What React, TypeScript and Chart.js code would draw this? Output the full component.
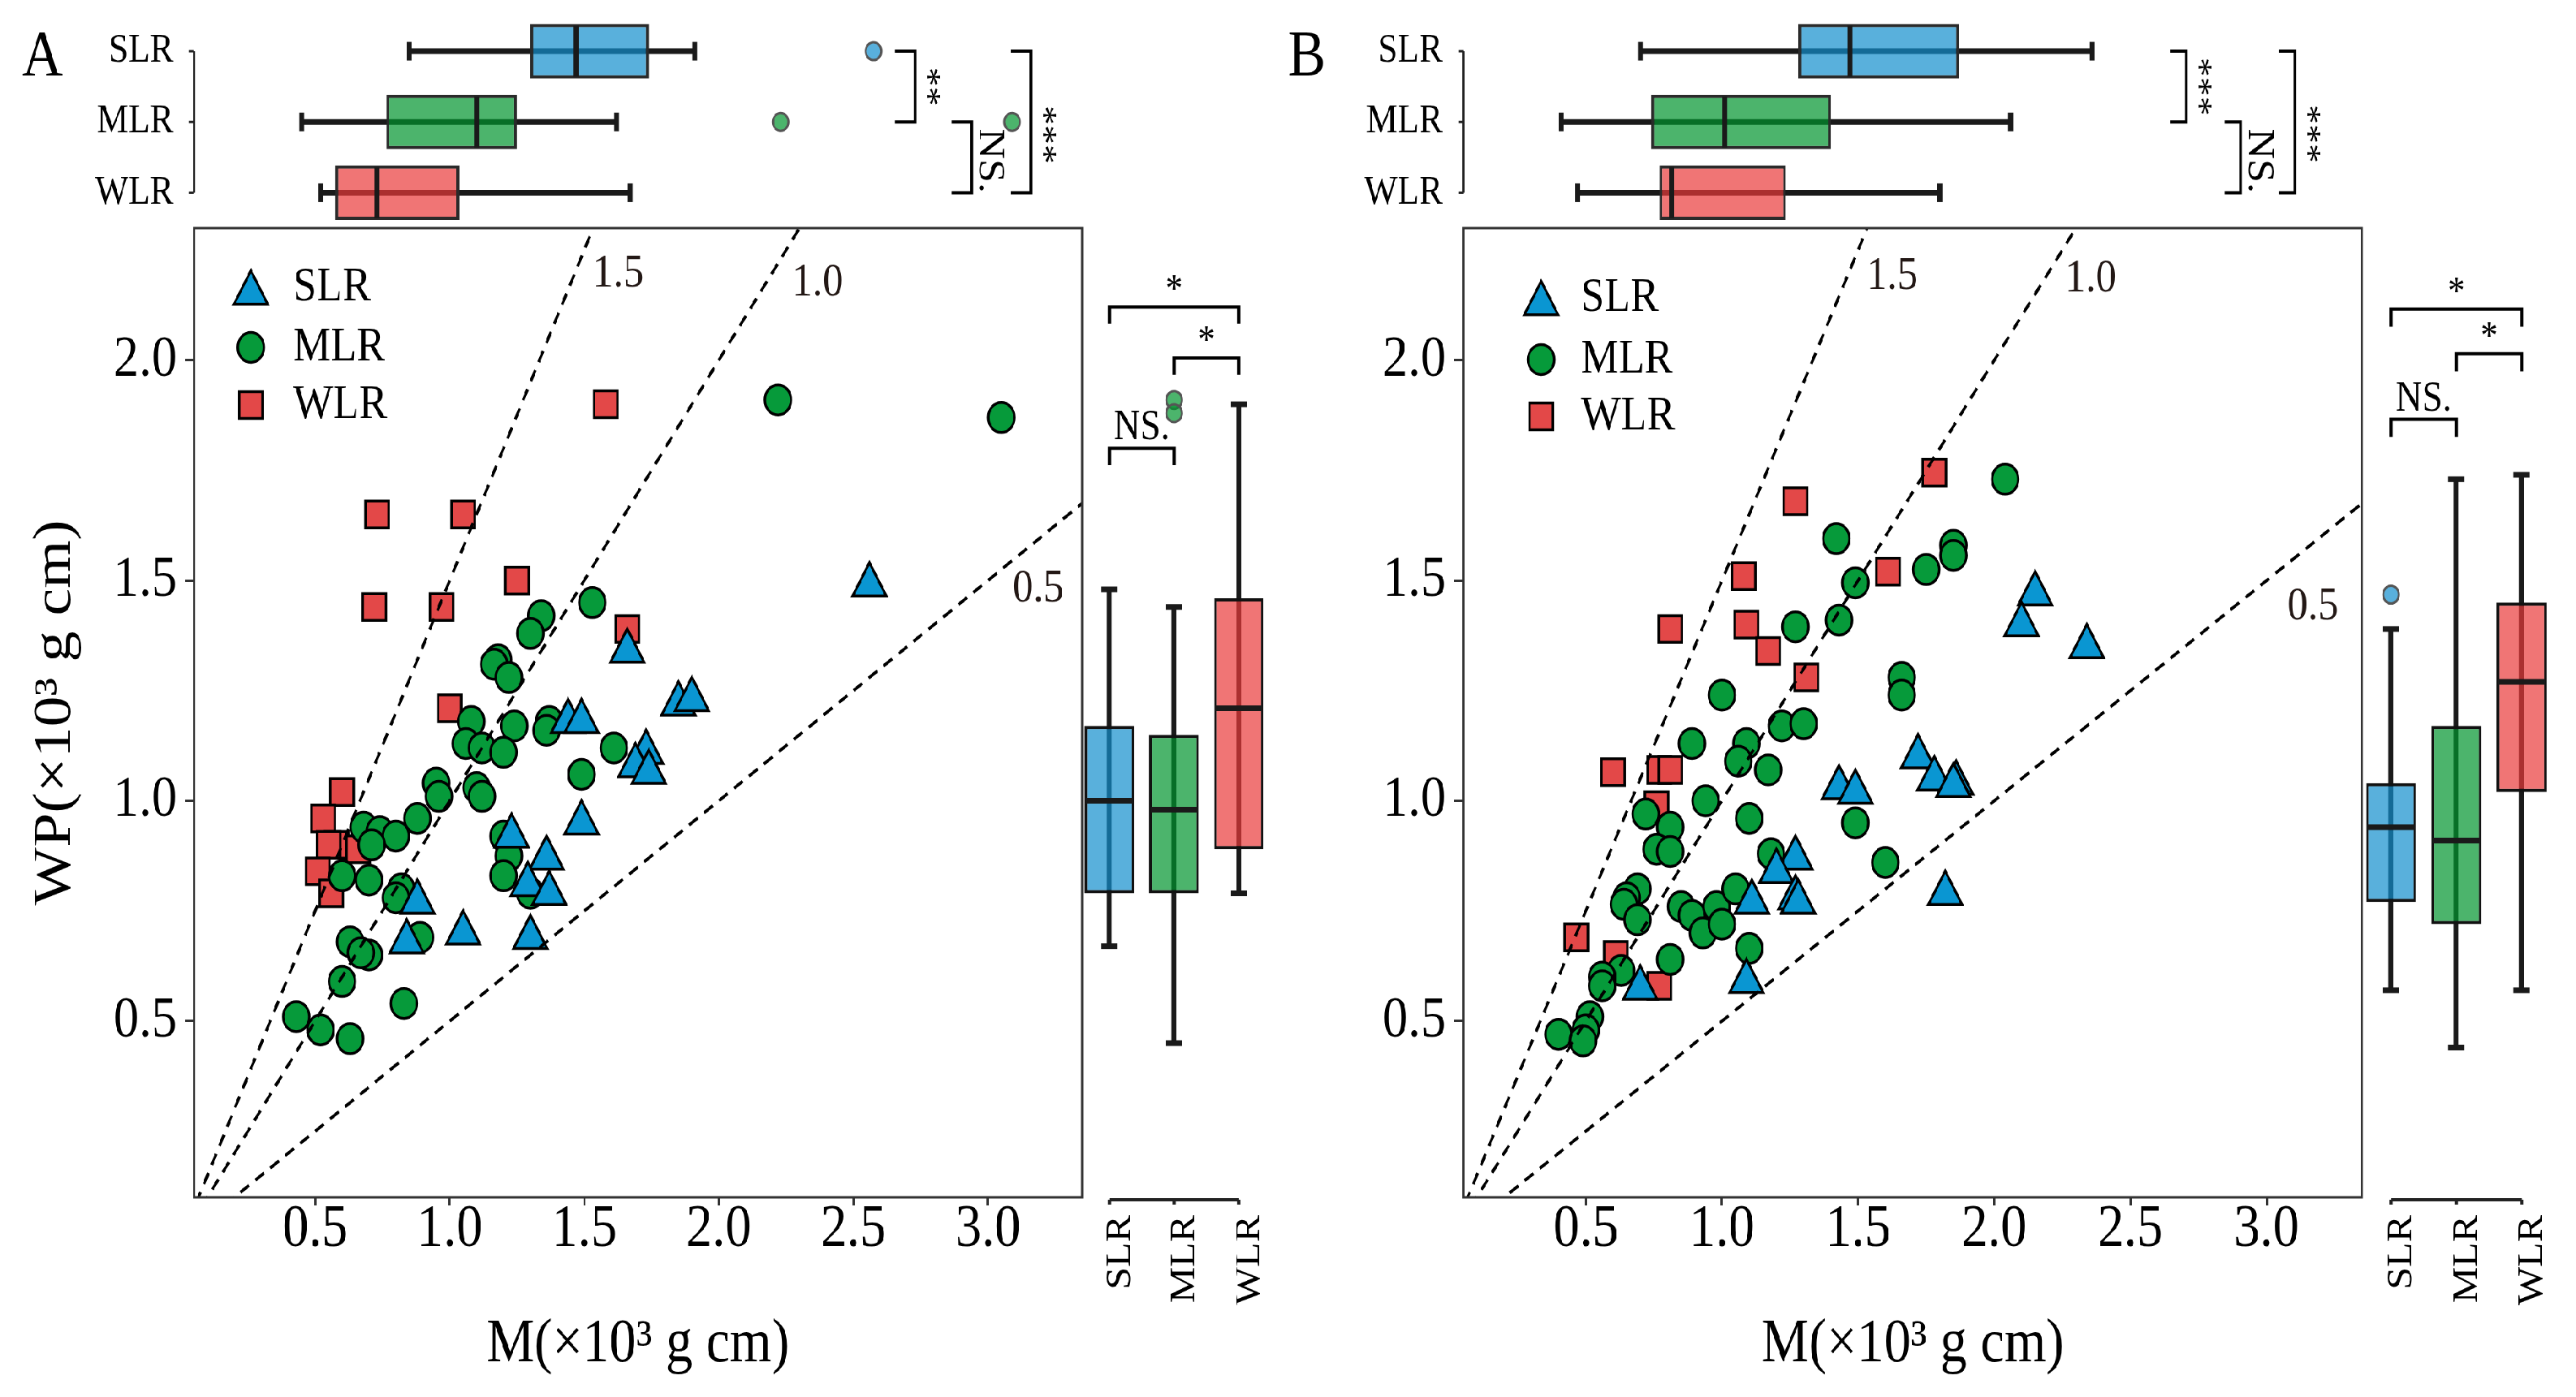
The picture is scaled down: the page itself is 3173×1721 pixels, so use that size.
import { useEffect, useRef } from "react";
import { Chart, registerables } from "chart.js";
import { drawPoint } from "chart.js/helpers";

Chart.register(...registerables);

const FONT = "'Liberation Serif', 'Times New Roman', serif";
Chart.defaults.font.family = FONT;
Chart.defaults.color = "#000";

// the figure is squeezed horizontally, so everything is drawn wider and scaled back with CSS
const SX = 0.87;
const L = (px: number) => px / SX;
const W = 3173;
const H = 1721;

const groups = ["SLR", "MLR", "WLR"];
const pointColors = ["#0a96d2", "#069a3a", "#e34848"];
const boxFills = ["rgba(19,143,205,0.7)", "rgba(0,148,46,0.7)", "rgba(233,59,59,0.7)"];
const pointStyles = ["triangle", "circle", "rect"];
const pointRadii = [27.5, 18.5, 23.3];

// reference lines WP = k * M
const slopes = [1.5, 1.0, 0.5];

// ---- Panel A: M and WP (x10^3 g cm) ----
const slrA_M = [2.56, 1.66, 1.85, 1.9, 1.44, 1.49, 1.73, 1.69, 1.74, 1.49, 1.23, 1.36, 1.29, 1.37, 0.88, 0.84, 1.05, 1.3];
const slrA_WP = [1.49, 1.34, 1.22, 1.23, 1.18, 1.18, 1.11, 1.08, 1.065, 0.95, 0.92, 0.87, 0.81, 0.79, 0.77, 0.68, 0.7, 0.69];
const mlrA_M = [
  1.53, 1.34, 1.3, 1.18, 1.165, 1.22, 1.08, 1.24, 1.37, 1.36, 1.06, 1.12, 1.2, 1.61, 1.49, 0.95, 0.96, 1.1, 1.12, 0.88,
  0.68, 0.74, 0.8, 0.71, 1.2, 1.22, 1.2, 1.3, 0.6, 0.7, 0.82, 0.8, 0.89, 0.63, 0.7, 0.67, 0.6, 0.83, 0.43, 0.52, 0.63,
  2.22, 3.05,
];
const mlrA_WP = [
  1.45, 1.42, 1.38, 1.32, 1.31, 1.28, 1.18, 1.17, 1.18, 1.16, 1.13, 1.12, 1.11, 1.12, 1.06, 1.04, 1.01, 1.03, 1.01, 0.96,
  0.94, 0.93, 0.92, 0.9, 0.92, 0.875, 0.83, 0.79, 0.83, 0.82, 0.8, 0.78, 0.69, 0.68, 0.65, 0.655, 0.59, 0.54, 0.51, 0.48,
  0.46, 1.91, 1.87,
];
const wlrA_M = [0.73, 1.05, 1.58, 1.25, 0.72, 0.97, 1.66, 1.0, 0.6, 0.53, 0.58, 0.55, 0.66, 0.51, 0.56];
const wlrA_WP = [1.65, 1.65, 1.9, 1.5, 1.44, 1.44, 1.39, 1.21, 1.02, 0.96, 0.9, 0.9, 0.89, 0.84, 0.79];

// ---- Panel B ----
const slrB_M = [2.15, 2.1, 2.34, 1.72, 1.78, 1.86, 1.85, 1.43, 1.49, 1.27, 1.2, 1.11, 1.27, 1.28, 1.82, 1.09, 0.7];
const slrB_WP = [1.47, 1.4, 1.35, 1.1, 1.05, 1.04, 1.035, 1.03, 1.02, 0.87, 0.84, 0.77, 0.78, 0.77, 0.79, 0.59, 0.575];
const mlrB_M = [
  2.04, 1.42, 1.85, 1.85, 1.75, 1.49, 1.27, 1.43, 1.66, 1.66, 1.0, 1.22, 1.3, 0.89, 1.09, 1.06, 1.17, 0.94, 1.1, 1.49,
  0.72, 0.81, 0.76, 0.81, 1.18, 1.6, 0.69, 0.65, 0.64, 0.69, 0.85, 0.89, 0.98, 0.93, 1.0, 1.05, 1.1, 0.81, 0.63, 0.56,
  0.56, 0.515, 0.5, 0.4, 0.49,
];
const mlrB_WP = [
  1.73, 1.595, 1.58, 1.557, 1.525, 1.495, 1.395, 1.41, 1.28, 1.24, 1.24, 1.17, 1.175, 1.13, 1.13, 1.09, 1.07, 1.0, 0.96,
  0.95, 0.97, 0.94, 0.89, 0.885, 0.88, 0.86, 0.8, 0.78, 0.765, 0.73, 0.76, 0.74, 0.76, 0.7, 0.72, 0.8, 0.665, 0.64, 0.615,
  0.6, 0.58, 0.51, 0.48, 0.47, 0.455,
];
const wlrB_M = [1.78, 1.27, 1.61, 1.08, 0.81, 1.09, 1.17, 1.31, 0.6, 0.77, 0.81, 0.76, 0.465, 0.61, 0.77];
const wlrB_WP = [1.745, 1.68, 1.52, 1.51, 1.39, 1.4, 1.34, 1.28, 1.065, 1.07, 1.07, 0.99, 0.69, 0.65, 0.58];

// box plot summaries [min, q1, median, q3, max]
const aM_SLR = [0.85, 1.3, 1.47, 1.74, 1.91];
const aM_MLR = [0.45, 0.765, 1.1, 1.25, 1.62];
const aM_WLR = [0.52, 0.575, 0.73, 1.035, 1.67];
const aM_out = [[2.575], [2.23, 3.09], []];
const aWP_SLR = [0.67, 0.79, 1.0, 1.17, 1.48];
const aWP_MLR = [0.45, 0.79, 0.98, 1.15, 1.44];
const aWP_WLR = [0.79, 0.89, 1.21, 1.46, 1.9];
const aWP_out = [[], [1.91, 1.88], []];
const bM_SLR = [0.7, 1.28, 1.47, 1.87, 2.36];
const bM_MLR = [0.41, 0.74, 1.01, 1.4, 2.06];
const bM_WLR = [0.47, 0.77, 0.815, 1.235, 1.8];
const bM_out = [[], [], []];
const bWP_SLR = [0.57, 0.77, 0.94, 1.04, 1.39];
const bWP_MLR = [0.44, 0.72, 0.91, 1.17, 1.73];
const bWP_WLR = [0.57, 1.02, 1.27, 1.45, 1.74];
const bWP_out = [[1.468], [], []];

// significance brackets
const topPairs = [[0, 1], [1, 2], [0, 2]];
const rightPairs = [[0, 2], [1, 2], [0, 1]];
const aM_sigAt = [2.73, 2.94, 3.16];
const aM_sig = ["**", "NS.", "***"];
const aM_sigTextAt = [0.5, 1.55, 1.18];
const bM_sigAt = [2.705, 2.905, 3.104];
const bM_sig = ["***", "NS.", "***"];
const bM_sigTextAt = [0.5, 1.55, 1.17];
const aWP_sigAt = [2.121, 2.005, 1.8];
const bWP_sigAt = [2.116, 2.015, 1.866];
const wp_sig = ["*", "*", "NS."];

// slope label positions (M, WP)
const aSlopeLabelM = [1.626, 2.367, 3.187];
const aSlopeLabelWP = [2.196, 2.176, 1.48];
const bSlopeLabelM = [1.625, 2.354, 3.17];
const bSlopeLabelWP = [2.19, 2.185, 1.44];

function line(ctx: any, a: number[], b: number[]) {
  ctx.beginPath();
  ctx.moveTo(a[0], a[1]);
  ctx.lineTo(b[0], b[1]);
  ctx.stroke();
}

// keep the chart area where we put it: no extra room for overhanging labels
function noPad(s: any) {
  s.paddingTop = 0;
  s.paddingBottom = 0;
  s.paddingLeft = 0;
  s.paddingRight = 0;
}

function makeBoxPlugin(o: any) {
  const xy = (horiz: boolean, v: number, c: number) => (horiz ? [v, c] : [c, v]);
  const scalesOf = (chart: any) => {
    const horiz = chart.options.indexAxis === "y";
    return {
      horiz,
      vs: horiz ? chart.scales.x : chart.scales.y,
      cs: horiz ? chart.scales.y : chart.scales.x,
    };
  };
  return {
    id: "boxExtras",
    beforeDatasetsDraw(chart: any) {
      const { ctx } = chart;
      const { horiz, vs, cs } = scalesOf(chart);
      ctx.save();
      ctx.strokeStyle = "#1a1a1a";
      ctx.lineWidth = 7;
      o.stats.forEach((s: number[], i: number) => {
        const c = cs.getPixelForValue(i);
        const lo = vs.getPixelForValue(s[0]);
        const hi = vs.getPixelForValue(s[4]);
        line(ctx, xy(horiz, lo, c), xy(horiz, hi, c));
        [lo, hi].forEach((v) => line(ctx, xy(horiz, v, c - 11.5), xy(horiz, v, c + 11.5)));
      });
      ctx.restore();
    },
    afterDatasetsDraw(chart: any) {
      const { ctx, chartArea: a } = chart;
      const { horiz, vs, cs } = scalesOf(chart);
      const meta = chart.getDatasetMeta(0);
      ctx.save();
      o.stats.forEach((s: number[], i: number) => {
        const el = meta.data[i];
        const half = (horiz ? el.height : el.width) / 2;
        const c = cs.getPixelForValue(i);
        const m = vs.getPixelForValue(s[2]);
        ctx.strokeStyle = "#1a1a1a";
        ctx.lineWidth = 7;
        line(ctx, xy(horiz, m, c - half + 2), xy(horiz, m, c + half - 2));
        o.outliers[i].forEach((v: number) => {
          const [x, y] = xy(horiz, vs.getPixelForValue(v), c);
          ctx.beginPath();
          ctx.arc(x, y, 11, 0, Math.PI * 2);
          ctx.fillStyle = boxFills[i];
          ctx.fill();
          ctx.strokeStyle = "#555";
          ctx.lineWidth = 3;
          ctx.stroke();
        });
      });

      // brackets with significance labels
      o.pairs.forEach((pr: number[], k: number) => {
        const cf = cs.getPixelForValue(pr[0]);
        const ct = cs.getPixelForValue(pr[1]);
        const p = vs.getPixelForValue(o.at[k]);
        const q = vs.getPixelForValue(o.at[k] - o.tip);
        ctx.strokeStyle = "#000";
        ctx.lineWidth = 4;
        ctx.beginPath();
        [[q, cf], [p, cf], [p, ct], [q, ct]].forEach(([v, c], j) => {
          const [x, y] = xy(horiz, v, c);
          if (j) ctx.lineTo(x, y);
          else ctx.moveTo(x, y);
        });
        ctx.stroke();
        const star = o.labels[k].startsWith("*");
        const mid = o.textAt ? cs.getPixelForValue(o.textAt[k]) : (cf + ct) / 2;
        ctx.fillStyle = "#000";
        ctx.font = `${star ? 48 : 52}px ${FONT}`;
        ctx.textAlign = "center";
        ctx.textBaseline = "alphabetic";
        ctx.save();
        if (horiz) {
          ctx.translate(p + (star ? 3.5 : 11.5), mid);
          ctx.rotate(Math.PI / 2);
        } else {
          ctx.translate(mid, p - (star ? 7 : 11));
        }
        ctx.fillText(o.labels[k], 0, 0);
        ctx.restore();
      });

      // category axis drawn only between the first and last group
      const cats = o.stats.map((_: any, i: number) => cs.getPixelForValue(i));
      ctx.strokeStyle = "#222";
      if (horiz) {
        ctx.lineWidth = 3;
        line(ctx, [a.left, cats[0]], [a.left, cats[cats.length - 1]]);
        cats.forEach((c: number) => line(ctx, [a.left - 7, c], [a.left, c]));
      } else {
        ctx.lineWidth = 4;
        const y = a.bottom + 3;
        line(ctx, [cats[0], y], [cats[cats.length - 1], y]);
        cats.forEach((c: number) => line(ctx, [c, y], [c, y + 6]));
      }

      if (o.letter) {
        ctx.fillStyle = "#000";
        ctx.font = `80px ${FONT}`;
        ctx.textAlign = "center";
        ctx.textBaseline = "alphabetic";
        ctx.fillText(o.letter.text, o.letter.x, o.letter.y);
      }
      ctx.restore();
    },
  };
}

function makeScatterPlugin(o: any) {
  return {
    id: "scatterExtras",
    afterDraw(chart: any) {
      const { ctx, chartArea: a, scales } = chart;
      ctx.save();
      ctx.strokeStyle = "#333";
      ctx.lineWidth = 3;
      ctx.strokeRect(a.left, a.top, a.right - a.left, a.bottom - a.top);

      ctx.fillStyle = "#231815";
      ctx.font = `58px ${FONT}`;
      ctx.textAlign = "center";
      ctx.textBaseline = "middle";
      slopes.forEach((k, i) => {
        ctx.fillText(k.toFixed(1), scales.x.getPixelForValue(o.labelM[i]), scales.y.getPixelForValue(o.labelWP[i]));
      });

      groups.forEach((g, i) => {
        const y = a.top + o.legendY[i];
        ctx.fillStyle = pointColors[i];
        ctx.strokeStyle = "#000";
        ctx.lineWidth = 3.5;
        drawPoint(
          ctx,
          { pointStyle: pointStyles[i], radius: pointRadii[i], borderWidth: 3.5, rotation: 0 } as any,
          a.left + o.legendX,
          y + (i === 0 ? pointRadii[0] / 4 : 0)
        );
        ctx.fillStyle = "#000";
        ctx.font = `60px ${FONT}`;
        ctx.textAlign = "left";
        ctx.textBaseline = "middle";
        ctx.fillText(g, a.left + o.legendTextX, y);
      });
      ctx.restore();
    },
  };
}

const baseOptions = {
  responsive: false,
  animation: false as const,
  events: [] as any[],
  plugins: { legend: { display: false }, tooltip: { enabled: false } },
};

function topConfig(p: any, yW: number) {
  return {
    type: "bar",
    data: {
      labels: groups,
      datasets: [
        {
          data: p.topStats.map((s: number[]) => [s[1], s[3]]),
          backgroundColor: boxFills,
          borderColor: "#2a2a2a",
          borderWidth: 4,
          borderSkipped: false,
          barPercentage: 0.77,
          categoryPercentage: 1,
        },
      ],
    },
    options: {
      ...baseOptions,
      indexAxis: "y",
      layout: { autoPadding: false, padding: { left: 0, top: 19.5, right: 30, bottom: 0 } },
      scales: {
        x: { type: "linear", min: 0.05, max: 3.35, display: false },
        y: {
          type: "category",
          afterFit: (s: any) => {
            s.width = yW;
            noPad(s);
          },
          border: { display: false },
          grid: { display: false, drawTicks: false },
          ticks: { padding: 29, autoSkip: false, font: { size: 50 } },
        },
      },
    },
    plugins: [
      makeBoxPlugin({
        stats: p.topStats,
        outliers: p.topOut,
        pairs: topPairs,
        at: p.topSigAt,
        labels: p.topSig,
        textAt: p.topSigTextAt,
        tip: p.topTip,
        letter: { text: p.letter, x: L(p.letterX) - L(p.left), y: 93 },
      }),
    ],
  };
}

function scatterConfig(p: any, yW: number) {
  return {
    type: "scatter",
    data: {
      datasets: [
        ...slopes.map((k) => ({
          type: "line",
          data: [
            { x: 0, y: 0 },
            { x: 4, y: 4 * k },
          ],
          borderColor: "#000",
          borderWidth: 4,
          borderDash: [15, 11],
          pointRadius: 0,
          fill: false,
          order: -1,
        })),
        ...groups.map((g, i) => ({
          label: g,
          data: p.M[i].map((x: number, j: number) => ({ x, y: p.WP[i][j] })),
          pointStyle: pointStyles[i],
          pointRadius: pointRadii[i],
          pointBackgroundColor: pointColors[i],
          pointBorderColor: "#000",
          pointBorderWidth: 3.5,
        })),
      ],
    },
    options: {
      ...baseOptions,
      layout: { autoPadding: false, padding: { left: 0, top: 21, right: 30, bottom: 0 } },
      scales: {
        x: {
          type: "linear",
          min: 0.05,
          max: 3.35,
          afterFit: (s: any) => {
            s.height = 246;
            noPad(s);
          },
          border: { display: false },
          grid: { drawOnChartArea: false, drawTicks: true, tickLength: 10, tickWidth: 3, tickColor: "#333" },
          ticks: {
            stepSize: 0.5,
            includeBounds: false,
            autoSkip: false,
            maxRotation: 0,
            padding: -14,
            font: { size: 74 },
            callback: (v: any) => Number(v).toFixed(1),
          },
          title: { display: true, text: "M(×10³ g cm)", font: { size: 76 }, padding: { top: 0, bottom: 18 } },
        },
        y: {
          type: "linear",
          min: 0.1,
          max: 2.3,
          afterFit: (s: any) => {
            s.width = yW;
            noPad(s);
          },
          border: { display: false },
          grid: { drawOnChartArea: false, drawTicks: true, tickLength: L(11), tickWidth: 3, tickColor: "#333" },
          ticks: {
            stepSize: 0.5,
            includeBounds: false,
            autoSkip: false,
            padding: 11.5,
            font: { size: 72 },
            callback: (v: any) => Number(v).toFixed(1),
          },
          title: {
            display: p.yTitle,
            text: "WP(×10³ g cm)",
            font: { size: 76 },
            padding: { top: 33.7, bottom: 0 },
          },
        },
      },
    },
    plugins: [
      makeScatterPlugin({
        labelM: p.slopeM,
        labelWP: p.slopeWP,
        legendX: L(p.legendX),
        legendTextX: L(p.legendTextX),
        legendY: p.legendY,
      }),
    ],
  };
}

function rightConfig(p: any, padL: number, padR: number) {
  return {
    type: "bar",
    data: {
      labels: groups,
      datasets: [
        {
          data: p.rightStats.map((s: number[]) => [s[1], s[3]]),
          backgroundColor: boxFills,
          borderColor: "#111",
          borderWidth: 4,
          borderSkipped: false,
          barPercentage: 0.77,
          categoryPercentage: 1,
        },
      ],
    },
    options: {
      ...baseOptions,
      layout: { autoPadding: false, padding: { left: padL, top: 21, right: padR, bottom: 0 } },
      scales: {
        x: {
          type: "category",
          afterFit: (s: any) => {
            s.height = 246;
            noPad(s);
          },
          border: { display: false },
          grid: { display: false, drawTicks: false },
          ticks: { minRotation: 90, maxRotation: 90, padding: 22, labelOffset: 16, autoSkip: false, font: { size: 50 } },
        },
        y: { type: "linear", min: 0.1, max: 2.3, display: false },
      },
    },
    plugins: [
      makeBoxPlugin({
        stats: p.rightStats,
        outliers: p.rightOut,
        pairs: rightPairs,
        at: p.rightSigAt,
        labels: wp_sig,
        tip: p.rightTip,
      }),
    ],
  };
}

// layout in reference pixels
const panels = [
  {
    letter: "A",
    letterX: 52,
    left: 0,
    plotL: 239,
    plotR: 1333,
    rightCanvas: [1290, 1600],
    boxL: 1326.5,
    boxR: 1565.5,
    yTitle: true,
    M: [slrA_M, mlrA_M, wlrA_M],
    WP: [slrA_WP, mlrA_WP, wlrA_WP],
    topStats: [aM_SLR, aM_MLR, aM_WLR],
    topOut: aM_out,
    topSigAt: aM_sigAt,
    topSig: aM_sig,
    topSigTextAt: aM_sigTextAt,
    topTip: 0.075,
    rightStats: [aWP_SLR, aWP_MLR, aWP_WLR],
    rightOut: aWP_out,
    rightSigAt: aWP_sigAt,
    rightTip: 0.038,
    slopeM: aSlopeLabelM,
    slopeWP: aSlopeLabelWP,
    legendX: 70,
    legendTextX: 122,
    legendY: [73, 147, 218],
  },
  {
    letter: "B",
    letterX: 1609,
    left: 1570,
    plotL: 1802,
    plotR: 2909,
    rightCanvas: [2870, 3173],
    boxL: 2904.75,
    boxR: 3146.25,
    yTitle: false,
    M: [slrB_M, mlrB_M, wlrB_M],
    WP: [slrB_WP, mlrB_WP, wlrB_WP],
    topStats: [bM_SLR, bM_MLR, bM_WLR],
    topOut: bM_out,
    topSigAt: bM_sigAt,
    topSig: bM_sig,
    topSigTextAt: bM_sigTextAt,
    topTip: 0.06,
    rightStats: [bWP_SLR, bWP_MLR, bWP_WLR],
    rightOut: bWP_out,
    rightSigAt: bWP_sigAt,
    rightTip: 0.04,
    slopeM: bSlopeLabelM,
    slopeWP: bSlopeLabelWP,
    legendX: 96,
    legendTextX: 145,
    legendY: [86, 162, 232],
  },
];

type Box = { x: number; y: number; w: number; h: number };

function ChartCanvas({ box, make }: { box: Box; make: () => any }) {
  const ref = useRef<HTMLCanvasElement>(null);
  const w = Math.round(box.w);
  const h = Math.round(box.h);

  useEffect(() => {
    if (!ref.current) return;
    const chart = new Chart(ref.current, make());
    return () => chart.destroy();
  }, []);

  return (
    <canvas
      ref={ref}
      width={w}
      height={h}
      style={{ position: "absolute", left: box.x, top: box.y, width: w, height: h }}
    />
  );
}

export default function App() {
  return (
    <div style={{ position: "absolute", left: 0, top: 0, width: W, height: H, overflow: "hidden", background: "#fff" }}>
      <div
        style={{
          position: "absolute",
          left: 0,
          top: 0,
          width: L(W),
          height: H,
          transform: `scaleX(${SX})`,
          transformOrigin: "0 0",
        }}
      >
        {panels.map((p) => {
          const x0 = L(p.left);
          const w = L(p.plotR) + 30 - x0;
          const yW = L(p.plotL) - x0;
          const r0 = L(p.rightCanvas[0]);
          const r1 = L(p.rightCanvas[1]);
          return [
            <ChartCanvas key={p.letter + "top"} box={{ x: x0, y: 0, w, h: 281 }} make={() => topConfig(p, yW)} />,
            <ChartCanvas key={p.letter + "sc"} box={{ x: x0, y: 260, w, h: H - 260 }} make={() => scatterConfig(p, yW)} />,
            <ChartCanvas
              key={p.letter + "right"}
              box={{ x: r0, y: 260, w: r1 - r0, h: H - 260 }}
              make={() => rightConfig(p, L(p.boxL) - r0, Math.round(r1 - r0) - (L(p.boxR) - r0))}
            />,
          ];
        })}
      </div>
    </div>
  );
}
